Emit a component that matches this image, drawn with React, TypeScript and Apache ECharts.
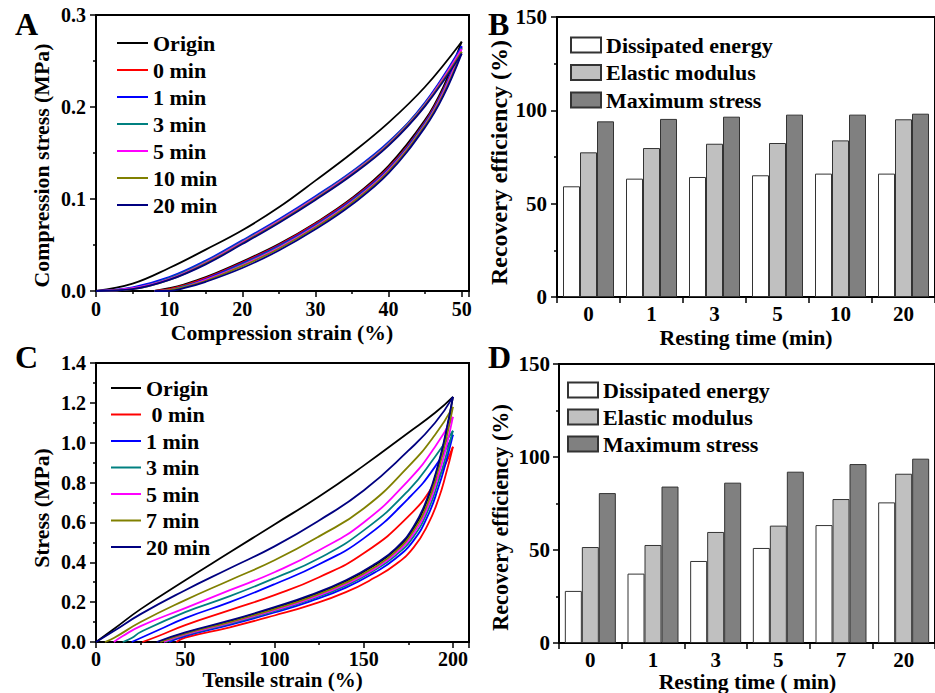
import React, { useEffect, useRef } from 'react';
import * as echarts from 'echarts';

const FONT = '"Liberation Serif", "Times New Roman", serif';

// ---------- Panel A: compression loops ----------
const namesA = ['Origin', '0 min', '1 min', '3 min', '5 min', '10 min', '20 min'];
const colorsA = ['#000000', '#ff0000', '#0000ff', '#008080', '#ff00ff', '#808000', '#000080'];
const aLoadStrain = [0, 5, 10, 15, 20, 25, 30, 35, 40, 45, 50];
const aUnloadStrain = [50, 47.5, 45, 40, 35, 30, 25, 20, 15, 12, 10, 8];
const aOriginLoad = [0, 0.008, 0.025, 0.045, 0.066, 0.091, 0.12, 0.15, 0.183, 0.222, 0.271];
const a0Load = [0, 0.003, 0.014, 0.032, 0.054, 0.077, 0.102, 0.129, 0.161, 0.204, 0.265];
const a1Load = [0, 0.004, 0.015, 0.033, 0.055, 0.078, 0.103, 0.13, 0.162, 0.205, 0.266];
const a3Load = [0, 0.003, 0.014, 0.032, 0.054, 0.077, 0.102, 0.129, 0.161, 0.204, 0.264];
const a5Load = [0, 0.003, 0.013, 0.031, 0.053, 0.076, 0.101, 0.128, 0.16, 0.203, 0.263];
const a10Load = [0, 0.002, 0.012, 0.03, 0.052, 0.075, 0.1, 0.127, 0.159, 0.202, 0.26];
const a20Load = [0, 0.002, 0.012, 0.029, 0.051, 0.074, 0.099, 0.126, 0.158, 0.201, 0.258];
const aOriginUnload = [0.271, 0.222, 0.186, 0.136, 0.101, 0.074, 0.051, 0.032, 0.015, 0.007, 0.003, 0];
const a0Unload = [0.265, 0.219, 0.184, 0.134, 0.1, 0.073, 0.05, 0.031, 0.014, 0.006, 0.002, 0];
const a1Unload = [0.266, 0.218, 0.183, 0.133, 0.099, 0.072, 0.049, 0.03, 0.013, 0.005, 0.001, 0];
const a3Unload = [0.264, 0.217, 0.182, 0.132, 0.098, 0.071, 0.048, 0.029, 0.012, 0.005, 0.001, 0];
const a5Unload = [0.263, 0.216, 0.181, 0.131, 0.097, 0.07, 0.047, 0.028, 0.012, 0.004, 0.001, 0];
const a10Unload = [0.26, 0.214, 0.18, 0.13, 0.096, 0.069, 0.046, 0.027, 0.011, 0.004, 0.001, 0];
const a20Unload = [0.258, 0.212, 0.178, 0.128, 0.094, 0.067, 0.044, 0.025, 0.01, 0.003, 0.0, 0];
const aLoads = [aOriginLoad, a0Load, a1Load, a3Load, a5Load, a10Load, a20Load];
const aUnloads = [aOriginUnload, a0Unload, a1Unload, a3Unload, a5Unload, a10Unload, a20Unload];

// ---------- Panel B: recovery (compression) ----------
const catsB = ['0', '1', '3', '5', '10', '20'];
const bDissipated = [59.3, 63.4, 64.3, 65.2, 66.1, 66.1];
const bElastic = [77.5, 79.8, 82.1, 82.5, 83.9, 95.2];
const bMaxStress = [94.1, 95.4, 96.6, 97.7, 97.7, 98.2];

// ---------- Panel C: tensile loops ----------
const namesC = ['Origin', ' 0 min', '1 min', '3 min', '5 min', '7 min', '20 min'];
const colorsC = ['#000000', '#ff0000', '#0000ff', '#008080', '#ff00ff', '#808000', '#000080'];
const cOriginLoadX = [0, 10, 25, 50, 75, 100, 125, 150, 175, 190, 200];
const cOriginLoadY = [0, 0.065, 0.165, 0.31, 0.45, 0.59, 0.73, 0.885, 1.05, 1.15, 1.23];
const c0LoadX = [26, 35, 50, 75, 100, 125, 150, 175, 190, 200];
const c0LoadY = [0, 0.03, 0.085, 0.16, 0.235, 0.325, 0.445, 0.63, 0.8, 0.98];
const c1LoadX = [20, 25, 35, 50, 75, 100, 125, 150, 175, 190, 200];
const c1LoadY = [0, 0.02, 0.06, 0.12, 0.2, 0.29, 0.39, 0.52, 0.72, 0.88, 1.04];
const c3LoadX = [15, 20, 25, 50, 75, 100, 125, 150, 175, 190, 200];
const c3LoadY = [0, 0.02, 0.05, 0.15, 0.23, 0.32, 0.42, 0.56, 0.76, 0.93, 1.06];
const c5LoadX = [10, 15, 25, 50, 75, 100, 125, 150, 175, 190, 200];
const c5LoadY = [0, 0.03, 0.08, 0.17, 0.26, 0.35, 0.46, 0.6, 0.81, 0.98, 1.13];
const c7LoadX = [5, 10, 25, 50, 75, 100, 125, 150, 175, 190, 200];
const c7LoadY = [0, 0.02, 0.1, 0.21, 0.31, 0.41, 0.53, 0.67, 0.88, 1.04, 1.18];
const c20LoadX = [0, 10, 25, 50, 75, 100, 125, 150, 175, 190, 200];
const c20LoadY = [0, 0.055, 0.14, 0.26, 0.37, 0.48, 0.61, 0.76, 0.96, 1.1, 1.23];
const cOriginUnloadX = [200, 196, 192, 186, 178, 168, 156, 140, 120, 100, 75, 50, 35];
const cOriginUnloadY = [1.23, 1.04, 0.89, 0.72, 0.57, 0.465, 0.385, 0.305, 0.23, 0.17, 0.104, 0.045, 0];
const c0UnloadX = [200, 196, 192, 186, 178, 168, 156, 140, 120, 100, 75, 50, 45];
const c0UnloadY = [0.98, 0.84, 0.72, 0.59, 0.475, 0.39, 0.322, 0.25, 0.185, 0.133, 0.074, 0.022, 0];
const c1UnloadX = [200, 196, 192, 186, 178, 168, 156, 140, 120, 100, 75, 50, 41];
const c1UnloadY = [1.04, 0.9, 0.78, 0.635, 0.51, 0.42, 0.348, 0.273, 0.204, 0.148, 0.086, 0.03, 0];
const c3UnloadX = [200, 196, 192, 186, 178, 168, 156, 140, 120, 100, 75, 50, 39];
const c3UnloadY = [1.06, 0.93, 0.81, 0.66, 0.53, 0.435, 0.36, 0.283, 0.212, 0.155, 0.092, 0.034, 0];
const c5UnloadX = [200, 196, 192, 186, 178, 168, 156, 140, 120, 100, 75, 50, 38];
const c5UnloadY = [1.13, 0.97, 0.84, 0.68, 0.545, 0.445, 0.367, 0.29, 0.218, 0.16, 0.096, 0.038, 0];
const c7UnloadX = [200, 196, 192, 186, 178, 168, 156, 140, 120, 100, 75, 50, 36];
const c7UnloadY = [1.18, 1.01, 0.87, 0.7, 0.56, 0.455, 0.375, 0.298, 0.224, 0.165, 0.1, 0.042, 0];
const c20UnloadX = [200, 196, 192, 186, 178, 168, 156, 140, 120, 100, 75, 50, 34];
const c20UnloadY = [1.23, 1.05, 0.9, 0.73, 0.58, 0.47, 0.39, 0.31, 0.235, 0.175, 0.108, 0.048, 0];
const cLoadX = [cOriginLoadX, c0LoadX, c1LoadX, c3LoadX, c5LoadX, c7LoadX, c20LoadX];
const cLoadY = [cOriginLoadY, c0LoadY, c1LoadY, c3LoadY, c5LoadY, c7LoadY, c20LoadY];
const cUnloadX = [cOriginUnloadX, c0UnloadX, c1UnloadX, c3UnloadX, c5UnloadX, c7UnloadX, c20UnloadX];
const cUnloadY = [cOriginUnloadY, c0UnloadY, c1UnloadY, c3UnloadY, c5UnloadY, c7UnloadY, c20UnloadY];

// ---------- Panel D: recovery (tensile) ----------
const catsD = ['0', '1', '3', '5', '7', '20'];
const dDissipated = [28.0, 37.3, 44.1, 51.1, 63.4, 75.6];
const dElastic = [51.6, 52.7, 59.7, 63.1, 77.4, 91.0];
const dMaxStress = [80.6, 84.1, 86.2, 92.1, 96.2, 99.1];

const barNames = ['Dissipated energy', 'Elastic modulus', 'Maximum stress'];
const barColors = ['#ffffff', '#c0c0c0', '#808080'];

const txt = (size: number) => ({ fontFamily: FONT, fontWeight: 'bold' as const, fontSize: size, color: '#000' });

const zip = (xs: number[], ys: number[]) => xs.map((x, i) => [x, ys[i]]);

function valueAxis(gridIndex: number, o: any) {
  return {
    type: 'value',
    gridIndex,
    min: o.min,
    max: o.max,
    interval: o.interval,
    axisLine: { show: true, onZero: false, lineStyle: { color: '#000', width: 2 } },
    axisTick: { show: true, length: 6, lineStyle: { color: '#000', width: 1.5 } },
    minorTick: { show: true, splitNumber: 2, length: 3, lineStyle: { color: '#000', width: 1.5 } },
    splitLine: { show: false },
    axisLabel: { ...txt(o.labelSize), margin: o.margin, showMaxLabel: o.showMaxLabel, formatter: o.formatter },
  };
}

function catAxis(gridIndex: number, data: string[], margin: number) {
  return {
    type: 'category',
    gridIndex,
    data,
    axisLine: { show: true, lineStyle: { color: '#000', width: 2 } },
    axisTick: { show: true, length: 6, lineStyle: { color: '#000', width: 1.5 } },
    splitLine: { show: false },
    axisLabel: { ...txt(21), margin },
  };
}

function title(text: string, x: number, y: number, size: number, vertical: boolean) {
  return {
    type: 'text',
    x,
    y,
    rotation: vertical ? Math.PI / 2 : 0,
    silent: true,
    style: {
      text,
      x: 0,
      y: 0,
      align: 'center',
      verticalAlign: 'middle',
      textAlign: 'center',
      textVerticalAlign: 'middle',
      fontFamily: FONT,
      fontWeight: 'bold',
      fontSize: size,
      fill: '#000',
    },
  };
}

function buildOption() {
  const series: any[] = [];
  namesA.forEach((n, i) => {
    const common = {
      type: 'line', name: n, xAxisIndex: 0, yAxisIndex: 0, symbol: 'none', smooth: 0.4,
      color: colorsA[i], lineStyle: { color: colorsA[i], width: 1.8 }, z: 2 + i,
    };
    series.push({ ...common, data: zip(aLoadStrain, aLoads[i]) });
    series.push({ ...common, data: zip(aUnloadStrain, aUnloads[i]) });
  });
  namesC.forEach((n, i) => {
    const common = {
      type: 'line', name: n, xAxisIndex: 2, yAxisIndex: 2, symbol: 'none', smooth: 0.5,
      color: colorsC[i], lineStyle: { color: colorsC[i], width: 1.8 }, z: 2 + i,
    };
    series.push({ ...common, data: zip(cLoadX[i], cLoadY[i]) });
    series.push({ ...common, data: zip(cUnloadX[i], cUnloadY[i]) });
  });
  const bData = [bDissipated, bElastic, bMaxStress];
  const dData = [dDissipated, dElastic, dMaxStress];
  barNames.forEach((n, i) => {
    const common = {
      type: 'bar', name: n, barWidth: 17, barGap: '0%', color: barColors[i],
      itemStyle: { color: barColors[i], borderColor: '#333', borderWidth: 1 },
    };
    series.push({ ...common, xAxisIndex: 1, yAxisIndex: 1, data: bData[i] });
    series.push({ ...common, xAxisIndex: 3, yAxisIndex: 3, data: dData[i] });
  });

  const gridCommon = { show: true, borderColor: '#000', borderWidth: 2, backgroundColor: 'transparent' };
  const legendText = { ...txt(22), lineHeight: 22 };

  return {
    animation: false,
    backgroundColor: '#ffffff',
    grid: [
      { ...gridCommon, left: 96, top: 15, width: 373, height: 276 },
      { ...gridCommon, left: 557, top: 17, width: 378, height: 280 },
      { ...gridCommon, left: 96, top: 363, width: 373, height: 279 },
      { ...gridCommon, left: 559, top: 364, width: 377, height: 279 },
    ],
    xAxis: [
      valueAxis(0, { min: 0, max: 51, interval: 10, labelSize: 20, margin: 8, showMaxLabel: false }),
      catAxis(1, catsB, 6),
      valueAxis(2, { min: 0, max: 209, interval: 50, labelSize: 20, margin: 7, showMaxLabel: false }),
      catAxis(3, catsD, 6),
    ],
    yAxis: [
      valueAxis(0, { min: 0, max: 0.3, interval: 0.1, labelSize: 20, margin: 10, formatter: (v: number) => v.toFixed(1) }),
      valueAxis(1, { min: 0, max: 150, interval: 50, labelSize: 21, margin: 10 }),
      valueAxis(2, { min: 0, max: 1.4, interval: 0.2, labelSize: 20, margin: 10, formatter: (v: number) => v.toFixed(1) }),
      valueAxis(3, { min: 0, max: 150, interval: 50, labelSize: 21, margin: 9 }),
    ],
    legend: [
      { data: namesA, orient: 'vertical', left: 117, top: 32, padding: 0, itemWidth: 31, itemHeight: 2, itemGap: 5, icon: 'rect', textStyle: legendText, selectedMode: false },
      { data: barNames, orient: 'vertical', left: 570, top: 34, padding: 0, itemWidth: 30, itemHeight: 15, itemGap: 5.5, icon: 'rect', textStyle: legendText, selectedMode: false },
      { data: namesC, orient: 'vertical', left: 111, top: 377, padding: 0, itemWidth: 30, itemHeight: 2, itemGap: 4.5, icon: 'rect', textStyle: legendText, selectedMode: false },
      { data: barNames, orient: 'vertical', left: 567, top: 379, padding: 0, itemWidth: 30, itemHeight: 15, itemGap: 5, icon: 'rect', textStyle: legendText, selectedMode: false },
    ],
    graphic: [
      { type: 'text', left: 15, top: 8, style: { text: 'A', ...txt(32), fill: '#000' } },
      { type: 'text', left: 488, top: 8, style: { text: 'B', ...txt(32), fill: '#000' } },
      { type: 'text', left: 15, top: 341, style: { text: 'C', ...txt(32), fill: '#000' } },
      { type: 'text', left: 488, top: 341, style: { text: 'D', ...txt(32), fill: '#000' } },
      title('Compression strain (%)', 282, 333, 21.7, false),
      title('Resting time (min)', 746, 338, 21.8, false),
      title('Tensile strain (%)', 282.5, 680, 21, false),
      title('Resting time ( min)', 747.5, 681.5, 21.7, false),
      title('Compression stress (MPa)', 42, 165.5, 21.8, true),
      title('Recovery efficiency (%)', 499, 162.5, 24, true),
      title('Stress (MPa)', 42, 508, 21.7, true),
      title('Recovery efficiency (%)', 500.5, 517.5, 22.2, true),
    ],
    series,
  };
}

export default function App() {
  const ref = useRef<HTMLDivElement>(null);
  useEffect(() => {
    if (!ref.current) return;
    const chart = echarts.init(ref.current, null, { renderer: 'svg' });
    chart.setOption(buildOption() as any);
    return () => chart.dispose();
  }, []);
  return (
    <div
      ref={ref}
      style={{ position: 'absolute', left: 0, top: 0, width: 935, height: 693, background: '#fff' }}
    />
  );
}
